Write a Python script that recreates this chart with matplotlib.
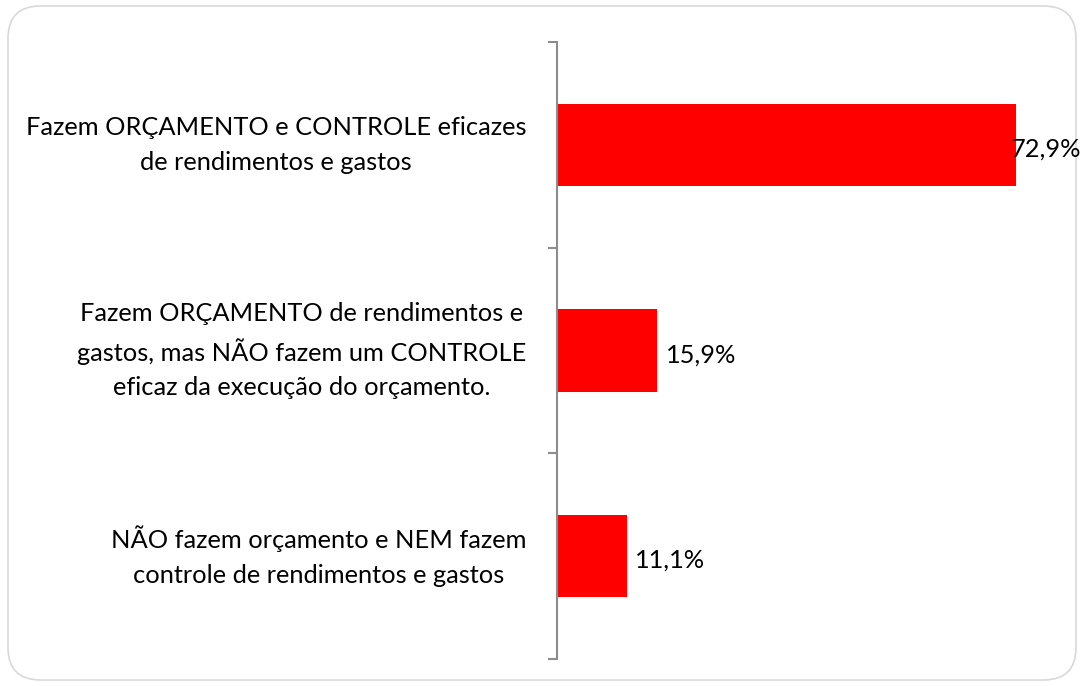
import matplotlib
import matplotlib.pyplot as plt
from matplotlib.patches import FancyBboxPatch

plt.rcParams['font.family'] = ['Lato', 'DejaVu Sans']

categorias = [
    'Fazem ORÇAMENTO e CONTROLE eficazes\nde rendimentos e gastos',
    'Fazem ORÇAMENTO de rendimentos e\ngastos, mas NÃO fazem um CONTROLE\neficaz da execução do orçamento.',
    'NÃO fazem orçamento e NEM fazem\ncontrole de rendimentos e gastos',
]
valores = [72.9, 15.9, 11.1]
rotulos = ['72,9%', '15,9%', '11,1%']

FS = 18.3

fig = plt.figure(figsize=(10.82, 6.86), dpi=100)

# moldura arredondada
borda = FancyBboxPatch((8 / 1082, 6 / 686), 1068 / 1082, 674 / 686,
                       boxstyle='round,pad=0,rounding_size=0.03',
                       transform=fig.transFigure, facecolor='none',
                       edgecolor='#d9d9d9', linewidth=1.2, zorder=-1,
                       mutation_aspect=1082 / 686)
fig.patches.append(borda)

ax = fig.add_axes([557 / 1082, 27 / 686, 524 / 1082, 617 / 686])
ax.patch.set_alpha(0)
y = list(range(len(valores)))
ax.barh(y, valores, height=0.4, color='#ff0000')

ax.set_xlim(0, 524 / 6.3)
ax.set_ylim(2.5, -0.5)
for s in ['top', 'right', 'bottom']:
    ax.spines[s].set_visible(False)
ax.spines['left'].set_color('#8c8c8c')
ax.spines['left'].set_linewidth(1.5)
ax.set_xticks([])
ax.set_yticks([-0.5, 0.5, 1.5, 2.5])
ax.set_yticklabels([])
ax.tick_params(axis='y', length=6.5, width=1.5, color='#8c8c8c')

for i, c in enumerate(categorias):
    ax.annotate(c, xy=(0, i), xycoords='data', xytext=(-22, 0),
                textcoords='offset points', ha='right', va='center',
                multialignment='center', fontsize=FS, linespacing=1.6)

for i, (v, r) in enumerate(zip(valores, rotulos)):
    if v > 70:
        ax.annotate(r, xy=(1.0, i), xycoords=ax.get_yaxis_transform(),
                    xytext=(0, -3), textcoords='offset points', ha='right',
                    va='center', fontsize=FS)
    else:
        ax.annotate(r, xy=(v, i), xytext=(6, -3), textcoords='offset points',
                    ha='left', va='center', fontsize=FS)

fig.savefig('out.png', dpi=100)
